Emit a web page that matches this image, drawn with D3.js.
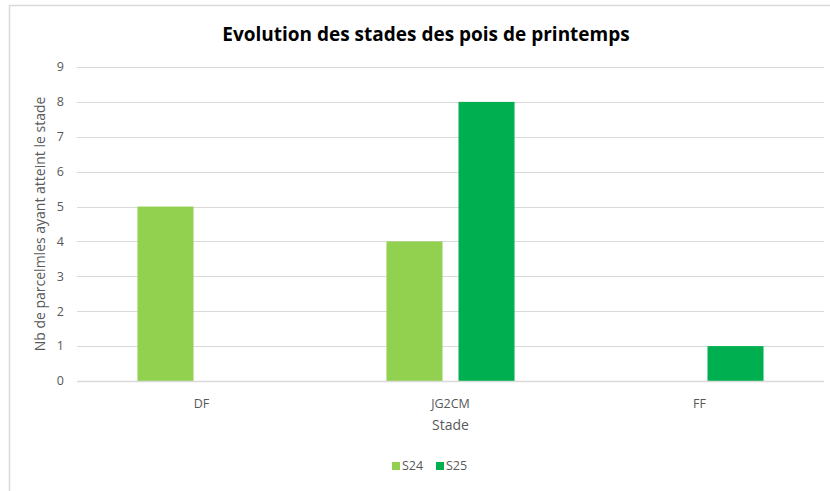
<!DOCTYPE html>
<html>
<head>
<meta charset="utf-8">
<script src="https://cdn.jsdelivr.net/npm/d3@7"></script>
<style>
  body { margin: 0; background: #fff; }
  text { font-family: "Open Sans", Lato, sans-serif; }
</style>
</head>
<body>
<svg width="830" height="491"></svg>
<script>
var categories = ["DF", "JG2CM", "FF"],
    series = ["S24", "S25"],
    s24 = [5, 4, 0],
    s25 = [0, 8, 1],
    yTicks = [0, 1, 2, 3, 4, 5, 6, 7, 8, 9],
    colors = {S24: "#92D050", S25: "#00B050"};

var svg = d3.select("svg"),
    width = +svg.attr("width"),
    height = +svg.attr("height");

var margin = {left: 77, right: 6, top: 67, bottom: 110};

// chart frame (only left and top edges are visible in the picture)
svg.append("path")
    .attr("d", "M9.5," + height + "V5.5H" + width)
    .attr("fill", "none")
    .attr("stroke", "#d9d9d9")
    .attr("stroke-width", 1.5);

var x = d3.scaleBand().domain(categories).range([margin.left, width - margin.right]),
    y = d3.scaleLinear().domain([0, 9]).range([height - margin.bottom, margin.top]);

var barW = x.bandwidth() * 0.225,
    gap = 16;
var xs = d3.scaleOrdinal().domain(series).range([-gap / 2 - barW, gap / 2]);

// grid
svg.append("g").selectAll("line")
    .data(yTicks.filter(function(d) { return d > 0; }))
  .enter().append("line")
    .attr("x1", margin.left).attr("x2", width - margin.right)
    .attr("y1", function(d) { return Math.round(y(d)) + 0.5; })
    .attr("y2", function(d) { return Math.round(y(d)) + 0.5; })
    .attr("stroke", "#d9d9d9").attr("stroke-width", 1);

// y tick labels
svg.append("g").selectAll("text")
    .data(yTicks)
  .enter().append("text")
    .attr("x", margin.left - 13)
    .attr("y", function(d) { return y(d); })
    .attr("dy", "0.35em")
    .attr("text-anchor", "end")
    .attr("font-size", 12.5)
    .attr("fill", "#595959")
    .text(function(d) { return d; });

// bars
var rows = categories.map(function(c, i) { return {cat: c, S24: s24[i], S25: s25[i]}; });

svg.append("g").selectAll("g")
    .data(rows)
  .enter().append("g")
    .attr("transform", function(d) { return "translate(" + (x(d.cat) + x.bandwidth() / 2) + ",0)"; })
  .selectAll("rect")
    .data(function(d) { return series.map(function(s) { return {key: s, value: d[s]}; }); })
  .enter().append("rect")
    .filter(function(d) { return d.value > 0; })
    .attr("x", function(d) { return xs(d.key); })
    .attr("width", barW)
    .attr("y", function(d) { return y(d.value); })
    .attr("height", function(d) { return y(0) - y(d.value); })
    .attr("fill", function(d) { return colors[d.key]; });

// x axis line
svg.append("line")
    .attr("x1", margin.left).attr("x2", width - margin.right)
    .attr("y1", Math.round(y(0)) + 0.5).attr("y2", Math.round(y(0)) + 0.5)
    .attr("stroke", "#d9d9d9").attr("stroke-width", 1.5);

// x tick labels
svg.append("g").selectAll("text")
    .data(categories)
  .enter().append("text")
    .attr("x", function(d) { return x(d) + x.bandwidth() / 2; })
    .attr("y", y(0) + 27)
    .attr("text-anchor", "middle")
    .attr("font-size", 12.5)
    .attr("fill", "#595959")
    .text(function(d) { return d; });

// axis titles
svg.append("text")
    .attr("x", (margin.left + width - margin.right) / 2)
    .attr("y", y(0) + 49)
    .attr("text-anchor", "middle")
    .attr("font-size", 14)
    .attr("fill", "#595959")
    .text("Stade");

svg.append("text")
    .attr("transform", "translate(45," + ((y(0) + y(9)) / 2) + ") rotate(-90)")
    .attr("text-anchor", "middle")
    .attr("font-size", 14)
    .attr("fill", "#595959")
    .text("Nb de parcelmles ayant atteint le stade");

// title
svg.append("text")
    .attr("x", 426)
    .attr("y", 41)
    .attr("text-anchor", "middle")
    .attr("font-size", 19)
    .attr("font-weight", "bold")
    .attr("fill", "#000")
    .text("Evolution des stades des pois de printemps");

// legend
var legend = svg.append("g").selectAll("g")
    .data(series)
  .enter().append("g")
    .attr("transform", function(d, i) { return "translate(" + (392 + i * 44) + ",462)"; });

legend.append("rect")
    .attr("width", 8).attr("height", 8)
    .attr("fill", function(d) { return colors[d]; });

legend.append("text")
    .attr("x", 10).attr("y", 4)
    .attr("dy", "0.35em")
    .attr("font-size", 12.5)
    .attr("fill", "#595959")
    .text(function(d) { return d; });
</script>
</body>
</html>
